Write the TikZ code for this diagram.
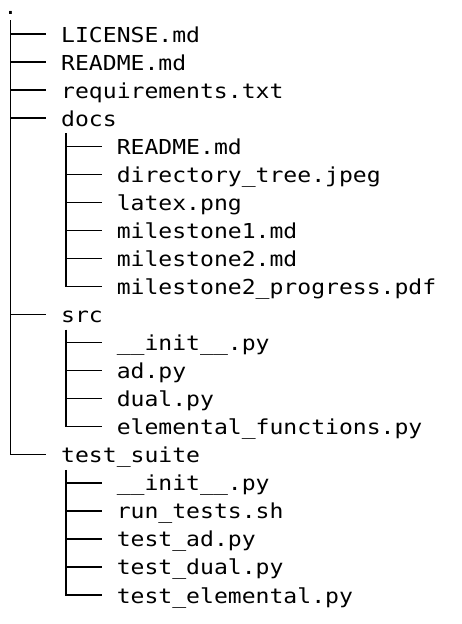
\documentclass[tikz,border=0pt]{standalone}
\usepackage{fontspec}
\setmonofont[FakeStretch=1.12]{DejaVu Sans Mono}
\begin{document}
\begin{tikzpicture}[x=1pt,y=1pt,
  mono/.style={inner sep=0pt, font=\ttfamily\fontsize{20.6pt}{24pt}\selectfont},
  entry/.style={mono, anchor=west, text height=16pt, text depth=0pt},
  branch/.style={line width=1.4pt, black}]
\useasboundingbox[fill=white] (0,0) rectangle (462,-624);

% root of the tree
\node[mono, anchor=base] (root) at (10.5,-14.5) {.};
\coordinate (trunk) at (10.5,-20);

% entries, one row every 28.05pt
\foreach \i/\d/\t in {
  0/1/LICENSE.md,
  1/1/README.md,
  2/1/requirements.txt,
  3/1/docs,
  4/2/README.md,
  5/2/directory\_tree.jpeg,
  6/2/latex.png,
  7/2/milestone1.md,
  8/2/milestone2.md,
  9/2/milestone2\_progress.pdf,
  10/1/src,
  11/2/\_\_init\_\_.py,
  12/2/ad.py,
  13/2/dual.py,
  14/2/elemental\_functions.py,
  15/1/test\_suite,
  16/2/\_\_init\_\_.py,
  17/2/run\_tests.sh,
  18/2/test\_ad.py,
  19/2/test\_dual.py,
  20/2/test\_elemental.py}
  \node[entry] (f\i) at ({61+55.6*(\d-1)},{-34-28.05*\i}) {\t};

% top-level branches
\draw[branch] (trunk) -- (trunk |- f15.west) -- ([xshift=-15pt]f15.west);
\foreach \n in {0,1,2,3,10}
  \draw[branch] (trunk |- f\n.west) -- ([xshift=-15pt]f\n.west);

% sub-directory branches: parent/first/last
\foreach \p/\a/\b in {3/4/9, 10/11/14, 15/16/20} {
  \draw[branch] ([xshift=5pt,yshift=-15pt]f\p.west) -- ([xshift=5pt]f\p.west |- f\b.west)
    -- ([xshift=-15pt]f\b.west);
  \pgfmathtruncatemacro{\last}{\b-1}
  \foreach \n in {\a,...,\last}
    \draw[branch] ([xshift=5pt]f\p.west |- f\n.west) -- ([xshift=-15pt]f\n.west);
}
\end{tikzpicture}
\end{document}
